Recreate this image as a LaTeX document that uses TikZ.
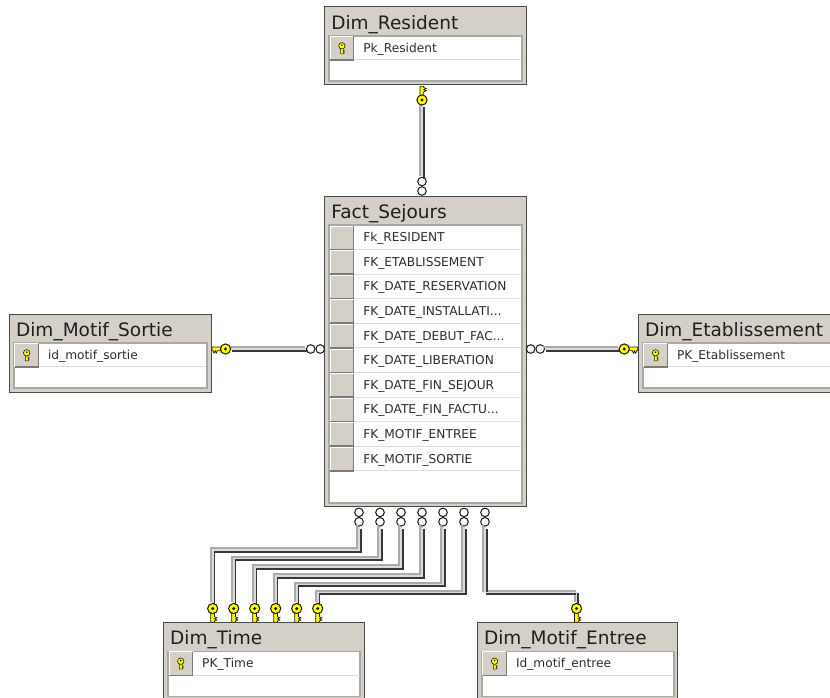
\documentclass[tikz,border=0pt]{standalone}
\usepackage{fontspec}
\setmainfont{DejaVu Sans}
\definecolor{facecol}{HTML}{D4D0C8}
\definecolor{framecol}{HTML}{4A4A4A}
\definecolor{gridcol}{HTML}{A8A8A4}
\definecolor{sepcol}{HTML}{E2DEDA}
\definecolor{keycol}{HTML}{FFFF00}
\definecolor{keyedge}{HTML}{1A1A00}
\definecolor{relL}{HTML}{ABABAB}
\definecolor{relM}{HTML}{DADADA}
\definecolor{relD}{HTML}{383838}
\tikzset{
  x=1pt,y=-1pt,
  tableframe/.style={draw=framecol,fill=facecol,line width=1pt,inner sep=0pt,outer sep=0pt,rectangle,anchor=north west},
  gridframe/.style={draw=gridcol,fill=white,line width=1.8pt,inner sep=0pt,outer sep=0pt,rectangle,anchor=north west},
  titletext/.style={anchor=base west,inner sep=0pt,font=\fontsize{18.5}{19}\selectfont,text=black!88},
  rowtext/.style={anchor=west,inner sep=0pt,font=\fontsize{12.2}{13}\selectfont,text=black!82},
  buttonface/.style={fill=facecol,draw=none,rectangle,inner sep=0pt,outer sep=0pt,anchor=north west,minimum width=23.5pt,minimum height=23.4pt},
  rowsep/.style={draw=sepcol,line width=1pt},
  btnlight/.style={draw=white,line width=1pt},
  btndark/.style={draw=black!52,line width=1.5pt},
  ringnode/.style={circle,draw=black!90,fill=white,line width=1pt,minimum size=8.6pt,inner sep=0pt,outer sep=0pt},
  keyhead/.style={circle,draw=keyedge,fill=keycol,line width=1pt,minimum size=10.2pt,inner sep=0pt,outer sep=0pt},
  strokeL/.style={draw=relL,line width=2.2pt,line join=miter,transform canvas={shift={(-1.7pt,1.7pt)}}},
  strokeM/.style={draw=relM,line width=1.6pt,line join=miter},
  strokeD/.style={draw=relD,line width=2pt,line join=miter,transform canvas={shift={(1.7pt,-1.7pt)}}},
  keyshaft/.pic={
    \fill[keycol,draw=keyedge,line width=0.7pt] (-2,3) -- (-2,13.6) -- (1.8,13.6) -- (1.8,12.5) -- (4.2,11.5) -- (1.8,10.3) -- (4.2,9.3) -- (1.8,8.2) -- (1.8,3) -- cycle;
  },
  smallkey/.pic={
    \fill[keycol,draw=keyedge,line width=0.5pt] (-1.3,1.5) -- (-1.3,8) -- (1.3,8) -- (2.6,7) -- (1.3,6) -- (2.6,5) -- (1.3,4.2) -- (1.3,1.5) -- cycle;
    \fill[keycol,draw=keyedge,line width=0.6pt] (0,0) circle (3.2);
    \fill[keyedge] (0,-0.6) circle (0.9);
  }
}
% id, x, y, w, h, title
\newcommand{\dbtable}[6]{%
  \node[tableframe,minimum width=#4pt,minimum height=#5pt] (#1) at (#2,#3) {};
  \node[gridframe,minimum width=#4pt-8.6pt,minimum height=#5pt-33pt] (#1grid) at ([shift={(4.3,29)}]#1.north west) {};
  \node[titletext] (#1title) at ([shift={(6.5,22.5)}]#1.north west) {#6};
}
% id, table, top offset, text, key?
\newcommand{\dbrow}[5]{%
  \node[buttonface] (#1btn) at ([shift={(5.5,#3)}]#2.north west) {};
  \draw[btnlight] (#1btn.south west) -- (#1btn.north west) -- (#1btn.north east);
  \draw[btndark] (#1btn.south west) -- (#1btn.south east) -- (#1btn.north east);
  \draw[rowsep] ([xshift=0.5pt]#1btn.south east) -- ([xshift=191pt]#1btn.south west);
  \node[rowtext] (#1txt) at ([shift={(9.5,1)}]#1btn.east) {#4};
  #5
}
\newcommand{\btnkey}[1]{\pic at ([yshift=2.4pt]#1btn.center) {smallkey};}
% name, x, y, pic options (no rotation = shaft pointing down on the page)
\newcommand{\bigkey}[4]{%
  \coordinate (#1pos) at (#2,#3);
  \pic[#4] at (#1pos) {keyshaft};
  \node[keyhead] (#1) at (#1pos) {};
  \fill[keyedge] (#1pos) circle (1.7);
}
\newcommand{\relpath}[1]{%
  \draw[strokeL] #1;
  \draw[strokeD] #1;
  \draw[strokeM] #1;
}
\begin{document}
\begin{tikzpicture}
\useasboundingbox (0,0) rectangle (830,698);
\clip (0,0) rectangle (830,698);
\fill[white] (0,0) rectangle (830,698);

% tables
\dbtable{resident}{324.6}{7}{201.4}{78}{Dim\_Resident}
\dbrow{r1}{resident}{29.5}{Pk\_Resident}{\btnkey{r1}}
\dbtable{fact}{324.6}{196}{201.4}{310.6}{Fact\_Sejours}
\dbrow{f1}{fact}{30}{Fk\_RESIDENT}{}
\dbrow{f2}{fact}{54.6}{FK\_ETABLISSEMENT}{}
\dbrow{f3}{fact}{79.2}{FK\_DATE\_RESERVATION}{}
\dbrow{f4}{fact}{103.8}{FK\_DATE\_INSTALLATI...}{}
\dbrow{f5}{fact}{128.4}{FK\_DATE\_DEBUT\_FAC...}{}
\dbrow{f6}{fact}{153}{FK\_DATE\_LIBERATION}{}
\dbrow{f7}{fact}{177.6}{FK\_DATE\_FIN\_SEJOUR}{}
\dbrow{f8}{fact}{202.2}{FK\_DATE\_FIN\_FACTU...}{}
\dbrow{f9}{fact}{226.8}{FK\_MOTIF\_ENTREE}{}
\dbrow{f10}{fact}{251.4}{FK\_MOTIF\_SORTIE}{}
\dbtable{sortie}{9.4}{314}{201.6}{78}{Dim\_Motif\_Sortie}
\dbrow{s1}{sortie}{29.5}{id\_motif\_sortie}{\btnkey{s1}}
\dbtable{etab}{638.3}{314}{201.6}{78}{Dim\_Etablissement}
\dbrow{e1}{etab}{29.5}{PK\_Etablissement}{\btnkey{e1}}
\dbtable{timet}{163.5}{622.4}{200.6}{78}{Dim\_Time}
\dbrow{t1}{timet}{29.5}{PK\_Time}{\btnkey{t1}}
\dbtable{entree}{477.3}{622.4}{200.6}{78}{Dim\_Motif\_Entree}
\dbrow{m1}{entree}{29.5}{Id\_motif\_entree}{\btnkey{m1}}

% relationship ends
\node[ringnode] (ra) at (422,181.5) {};
\node[ringnode] (rb) at (422,191) {};
\node[ringnode] (sa) at (320.2,349) {};
\node[ringnode] (sb) at (310.7,349) {};
\node[ringnode] (ea) at (530.7,349) {};
\node[ringnode] (eb) at (540.2,349) {};
\foreach \i/\cx in {1/359,2/380,3/401,4/422,5/443,6/464,7/485}{
  \node[ringnode] (bt\i) at (\cx,512.4) {};
  \node[ringnode] (bb\i) at (\cx,521.8) {};
}
\foreach \i/\hy in {1/550,2/558.5,3/567,4/576,5/584.5,6/592.5,7/592.5}{
  \coordinate (hy\i) at (0,\hy);
}
\coordinate (kpr) at (422,100);
\coordinate (kps) at (225.5,349);
\coordinate (kpe) at (624.2,349);
\foreach \i/\kx in {1/212.7,2/233.7,3/254.7,4/275.7,5/296.7,6/317.7}{
  \coordinate (kpt\i) at (\kx,608.5);
}
\coordinate (kpm) at (576.5,608.5);

% connectors
\relpath{(kpr) ++(0,5) -- (ra.north)}
\relpath{(kps) ++(5,0) -- (sb.west)}
\relpath{(eb.east) -- ([xshift=-5pt]kpe)}
\foreach \i in {1,...,6}{
  \relpath{(bb\i.south) ++(0,1) -- (bb\i |- hy\i) -- (kpt\i |- hy\i) -- ([yshift=5pt]kpt\i)}
}
\relpath{(bb7.south) ++(0,1) -- (bb7 |- hy7) -- (kpm |- hy7) -- ([yshift=5pt]kpm)}

% keys
\bigkey{kr}{422}{100}{rotate=180,xscale=-1}
\bigkey{ks}{225.5}{349}{rotate=270}
\bigkey{ke}{624.2}{349}{rotate=90,xscale=-1}
\foreach \i/\kx in {1/212.7,2/233.7,3/254.7,4/275.7,5/296.7,6/317.7}{
  \bigkey{kt\i}{\kx}{608.5}{}
}
\bigkey{km}{576.5}{608.5}{}
\end{tikzpicture}
\end{document}
